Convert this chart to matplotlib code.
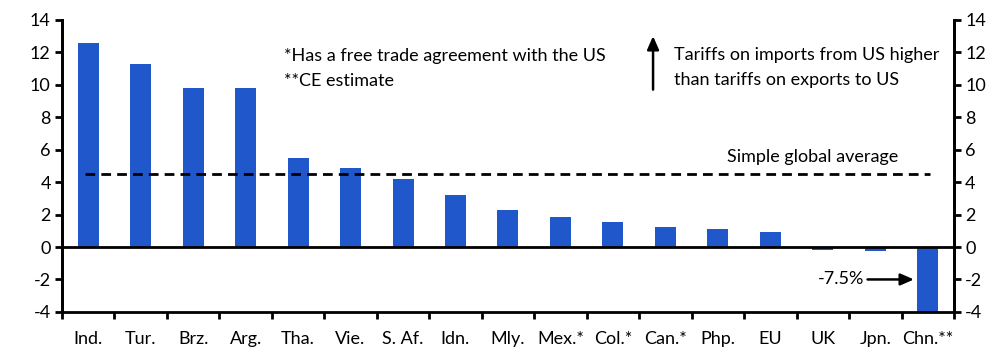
import numpy as np
from matplotlib import pyplot as plt

countries = ["Ind.", "Tur.", "Brz.", "Arg.", "Tha.", "Vie.", "S. Af.", "Idn.", "Mly.",
             "Mex.*", "Col.*", "Can.*", "Php.", "EU", "UK", "Jpn.", "Chn.**"]
tariff_gap = [12.6, 11.3, 9.8, 9.8, 5.5, 4.9, 4.2, 3.2, 2.3,
              1.85, 1.55, 1.25, 1.1, 0.9, -0.2, -0.25, -7.5]
global_avg = 4.5

plt.rcParams["font.family"] = ["Lato", "DejaVu Sans"]
plt.rcParams["axes.unicode_minus"] = False
fs = 13

fig = plt.figure(figsize=(9.98, 3.61), dpi=100)
ax = fig.add_axes([0.062, 0.136, 0.894, 0.809])

x = np.arange(len(countries))
ax.bar(x, tariff_gap, width=0.4, color="#2058cc", zorder=2)
ax.axhline(0, color="k", lw=2, zorder=3)
ax.plot([x[0] - 0.05, x[-1] + 0.05], [global_avg, global_avg], color="k", lw=2,
        dashes=(3.5, 2.2), zorder=3)

ax.set_xlim(-0.5, len(countries) - 0.5)
ax.set_ylim(-4, 14)
ax.set_yticks(range(-4, 15, 2))
ax.set_xticks(x)
ax.set_xticklabels(countries)
ax.set_xticks(np.arange(-0.5, len(countries), 1), minor=True)

ax2 = ax.twinx()
ax2.set_ylim(-4, 14)
ax2.set_yticks(range(-4, 15, 2))

for a in (ax, ax2):
    a.spines["top"].set_visible(False)
    for s in ("left", "right", "bottom"):
        a.spines[s].set_linewidth(2)
    a.tick_params(axis="y", direction="out", length=5, width=2, labelsize=fs, pad=3)
ax2.spines["bottom"].set_visible(False)
ax.tick_params(axis="x", which="major", length=0, labelsize=fs, pad=14)
ax.tick_params(axis="x", which="minor", direction="out", length=5, width=2)

head = "-|>,head_width=0.35,head_length=0.8"
tr = ax.get_yaxis_transform()
ax.text(0.249, 11.75, "*Has a free trade agreement with the US", transform=tr,
        fontsize=fs, va="center", ha="left")
ax.text(0.249, 10.25, "**CE estimate", transform=tr, fontsize=fs, va="center", ha="left")
ax.annotate("", xy=(0.6626, 13.0), xytext=(0.6626, 9.7), xycoords=tr,
            arrowprops=dict(arrowstyle=head, color="k", lw=1.8, shrinkA=0, shrinkB=0))
ax.text(0.686, 11.85, "Tariffs on imports from US higher", transform=tr,
        fontsize=fs, va="center", ha="left")
ax.text(0.686, 10.3, "than tariffs on exports to US", transform=tr,
        fontsize=fs, va="center", ha="left")
ax.text(0.841, 5.55, "Simple global average", transform=tr, fontsize=fs, va="center", ha="center")
ax.text(0.899, -2.0, "-7.5%", transform=tr, fontsize=fs, va="center", ha="right")
ax.annotate("", xy=(0.955, -2.0), xytext=(0.903, -2.0), xycoords=tr,
            arrowprops=dict(arrowstyle=head, color="k", lw=1.8, shrinkA=0, shrinkB=0))

fig.savefig("out.png", dpi=100)
